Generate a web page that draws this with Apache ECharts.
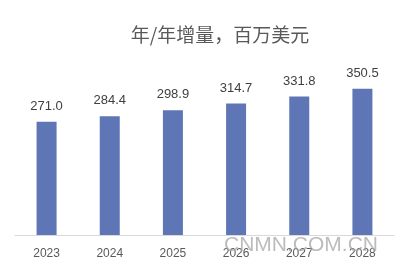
<!DOCTYPE html>
<html><head><meta charset="utf-8">
<script src="https://cdn.jsdelivr.net/npm/echarts@6/dist/echarts.min.js"></script>
<style>html,body{margin:0;padding:0;background:#fff}#c{width:400px;height:271px}</style>
</head><body><div id="c"></div>
<script>
const titleText = '年/年增量，百万美元';
const categories = ['2023','2024','2025','2026','2027','2028'];
const values = [271.0, 284.4, 298.9, 314.7, 331.8, 350.5];
const watermark = 'CNMN.COM.CN';

const chart = echarts.init(document.getElementById('c'), null, {renderer:'canvas'});
chart.setOption({
  animation:false,
  backgroundColor:'#fff',
  title:{text:titleText,left:215,top:20,textAlign:'center',
    textStyle:{fontFamily:'Noto Sans CJK SC',fontSize:19,fontWeight:'normal',color:'#595959'}},
  grid:{left:15,right:6,top:68,bottom:36},
  xAxis:{type:'category',data:categories,
    axisLine:{lineStyle:{color:'#d9d9d9',width:1}},
    axisTick:{show:false},
    axisLabel:{color:'#595959',fontSize:12,fontFamily:'Liberation Sans',margin:13}},
  yAxis:{type:'value',min:0,max:400,show:false,splitLine:{show:false}},
  series:[{type:'bar',data:values,barWidth:20,
    itemStyle:{color:'#5e76b6'},
    label:{show:true,position:'top',distance:9,color:'#404040',fontSize:13,fontFamily:'Liberation Sans',
      formatter:p=>p.value.toFixed(1)}}],
  graphic:[{type:'text',left:224,top:235,z:100,
    style:{text:watermark,fontSize:21,fontFamily:'Liberation Sans',fill:'rgba(165,165,165,0.75)'}}]
});
</script></body></html>
